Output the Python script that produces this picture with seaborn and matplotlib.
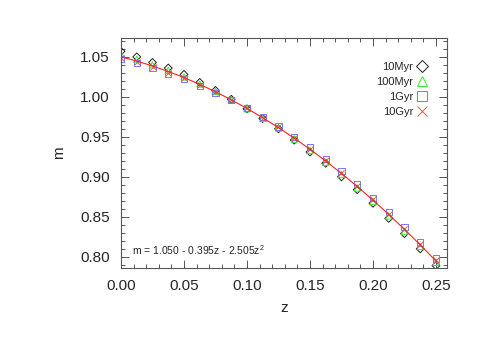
import matplotlib
matplotlib.use("Agg")
import matplotlib.pyplot as plt
from matplotlib.lines import Line2D
from matplotlib.ticker import MultipleLocator
import seaborn as sns
import numpy as np
import pandas as pd

# redshift grid of the models
z = [0.0, 0.0125, 0.025, 0.0375, 0.05, 0.0625, 0.075, 0.0875, 0.1, 0.1125,
     0.125, 0.1375, 0.15, 0.1625, 0.175, 0.1875, 0.2, 0.2125, 0.225, 0.2375, 0.25]

m_10myr = [1.057, 1.050, 1.043, 1.036, 1.028, 1.018, 1.008, 0.997, 0.985, 0.973,
           0.960, 0.946, 0.931, 0.917, 0.900, 0.884, 0.867, 0.848, 0.829, 0.810, 0.789]
m_100myr = [1.053, 1.047, 1.040, 1.033, 1.025, 1.016, 1.007, 0.996, 0.985, 0.973,
            0.961, 0.947, 0.933, 0.918, 0.903, 0.886, 0.869, 0.851, 0.832, 0.813, 0.793]
m_1gyr = [1.047, 1.042, 1.036, 1.029, 1.022, 1.014, 1.005, 0.996, 0.986, 0.975,
          0.963, 0.950, 0.937, 0.922, 0.907, 0.891, 0.874, 0.856, 0.837, 0.818, 0.798]
m_10gyr = [1.048, 1.043, 1.037, 1.030, 1.023, 1.015, 1.006, 0.996, 0.986, 0.974,
           0.962, 0.949, 0.935, 0.921, 0.905, 0.889, 0.872, 0.854, 0.835, 0.816, 0.796]

# quadratic fit quoted on the plot
fit_coef = [1.050, -0.395, -2.505]

series = [
    ("10Myr", m_10myr, "D", "#222222"),
    ("100Myr", m_100myr, "^", "#33ee33"),
    ("1Gyr", m_1gyr, "s", "#7777ff"),
    ("10Gyr", m_10gyr, "x", "#cc6644"),
]

sns.set_theme(style="ticks")
plt.rcParams["font.family"] = ["Liberation Sans", "DejaVu Sans"]
plt.rcParams["mathtext.fontset"] = "custom"
plt.rcParams["mathtext.rm"] = "Liberation Sans"

fig = plt.figure(figsize=(4.85, 3.46), dpi=100)
ax = fig.add_axes([0.2495, 0.2254, 0.672, 0.6646])

for name, vals, mk, col in series:
    if mk == "x":
        sns.scatterplot(x=z, y=vals, marker=mk, s=20, color=col, linewidth=0.7,
                        ax=ax, zorder=2)
    else:
        sns.scatterplot(x=z, y=vals, marker=mk, s=20 if mk != "D" else 16,
                        facecolors="none", edgecolors=col, linewidth=0.7,
                        ax=ax, zorder=2)

zz = np.linspace(0, 0.25, 200)
fit = pd.DataFrame({"z": zz, "m": fit_coef[0] + fit_coef[1] * zz + fit_coef[2] * zz ** 2})
sns.lineplot(data=fit, x="z", y="m", color="#ff2222", linewidth=0.8, ax=ax, zorder=3)

ax.set_xlim(0, 0.2587)
ax.set_ylim(0.786, 1.0735)
ax.xaxis.set_major_locator(MultipleLocator(0.05))
ax.xaxis.set_minor_locator(MultipleLocator(0.01))
ax.yaxis.set_major_locator(MultipleLocator(0.05))
ax.yaxis.set_minor_locator(MultipleLocator(0.01))
ax.xaxis.set_major_formatter(matplotlib.ticker.FormatStrFormatter("%.2f"))
ax.yaxis.set_major_formatter(matplotlib.ticker.FormatStrFormatter("%.2f"))
ax.tick_params(which="both", direction="in", top=True, right=True,
               labelsize=11, color="#555555", width=0.7)
ax.tick_params(which="major", length=6, pad=8)
ax.tick_params(which="minor", length=3)
for sp in ax.spines.values():
    sp.set_color("#555555")
    sp.set_linewidth(0.8)

ax.set_xlabel("z", fontsize=11, labelpad=6)
ax.set_ylabel("m", fontsize=11, labelpad=10)

ax.text(0.035, 0.08, r"m = 1.050 - 0.395z - 2.505z$^2$", transform=ax.transAxes,
        fontsize=7.5, va="center", ha="left")

handles = []
for name, vals, mk, col in series:
    if mk == "x":
        h = Line2D([], [], linestyle="", marker=mk, color=col, markersize=7,
                   markeredgewidth=0.7, label=name)
    else:
        h = Line2D([], [], linestyle="", marker=mk, markerfacecolor="none",
                   markeredgecolor=col, markersize=7 if mk != "D" else 6,
                   markeredgewidth=0.7, label=name)
    handles.append(h)
ax.legend(handles=handles, loc="upper right", frameon=False, markerfirst=False,
          fontsize=8, handlelength=0.8, handletextpad=0.4, labelspacing=0.45,
          bbox_to_anchor=(0.955, 0.92), borderpad=0)

fig.savefig("out.png", dpi=100)
